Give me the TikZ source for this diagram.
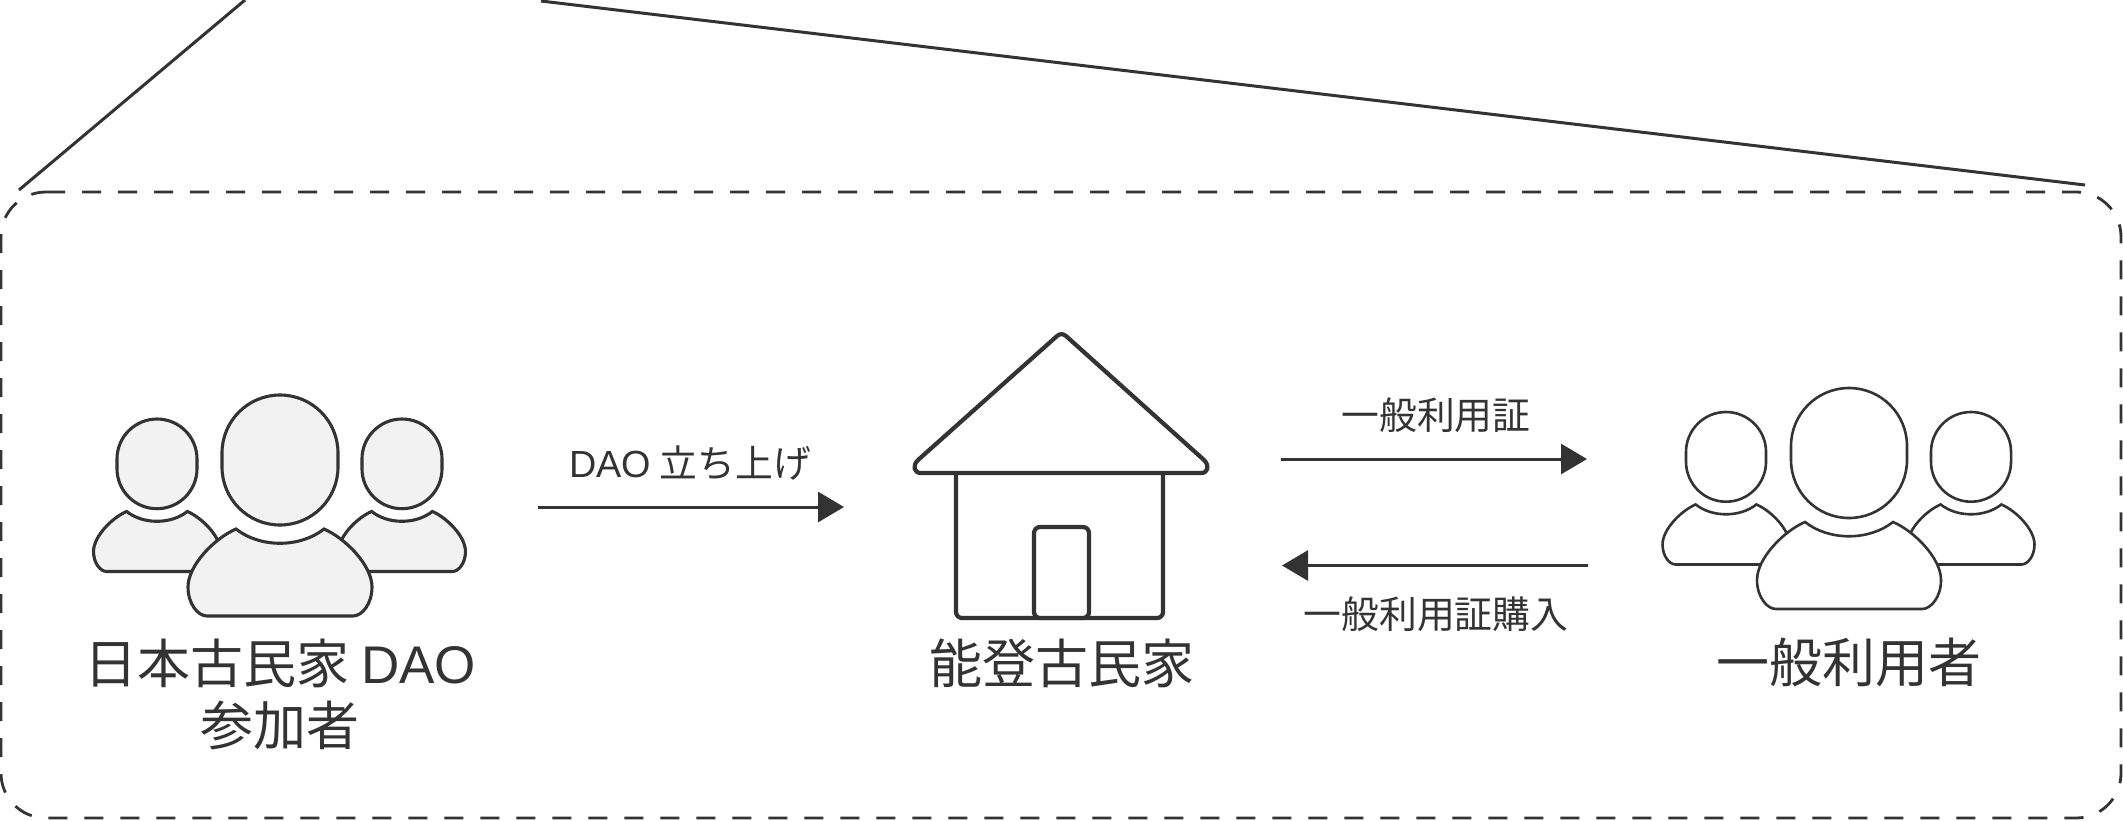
\documentclass[tikz,border=0pt]{standalone}
\usepackage{fontspec}
\setmainfont{Noto Sans CJK JP}
\newfontfamily\latinfont{Liberation Sans}
\usetikzlibrary{arrows.meta}
\definecolor{ink}{HTML}{333333}
\definecolor{pale}{HTML}{F2F2F2}
\tikzset{
  line/.style={draw=ink,line width=1.5pt},
  flow/.style={line,-{Triangle[length=13pt,width=15pt,fill=ink]}},
  frame/.style={draw=ink,line width=1.4pt,dash pattern=on 9.5pt off 8.5pt},
  house/.style={draw=ink,line width=2.1pt,line join=round,fill=white},
  bigtext/.style={text=ink,font=\fontsize{26.5pt}{30pt}\selectfont,inner sep=0pt,anchor=center},
  smalltext/.style={text=ink,font=\fontsize{18.9pt}{22pt}\selectfont,inner sep=0pt,anchor=center},
}
% one person, drawn from the top centre of the head
\newcommand{\personfig}[4]{%
  \begin{scope}[shift={(#1,#2)},scale=#3]
    \path[#4] (-58,58) arc[start angle=180,end angle=360,radius=58] -- (58,72)
      arc[start angle=0,end angle=180,radius=58] -- cycle;
    \path[#4,line join=miter] (-44,134) .. controls (-20,153) and (20,153) .. (44,134)
      .. controls (65,143) and (92,170) .. (92,192)
      .. controls (92,209) and (82,221) .. (73,221) -- (-73,221)
      .. controls (-82,221) and (-92,209) .. (-92,192)
      .. controls (-92,170) and (-65,143) .. (-44,134) -- cycle;
  \end{scope}}
\newcommand{\crowdfig}[3]{%
  \personfig{#1-123}{#2+24}{0.69}{#3}
  \personfig{#1+122}{#2+24}{0.69}{#3}
  \personfig{#1}{#2}{1}{#3}}
\begin{document}
\begin{tikzpicture}[x=0.5pt,y=-0.5pt]
  \useasboundingbox (0,0) rectangle (2123,820);
  % funnel lines and frame
  \coordinate (fa) at (245,0);  \coordinate (fb) at (19,190);
  \coordinate (fc) at (541,1);  \coordinate (fd) at (2085,185);
  \draw[line] (fa) -- (fb);
  \draw[line] (fc) -- (fd);
  \draw[frame] (46,192) -- (2076,192) .. controls (2101,192) and (2121,212) .. (2121,237)
     -- (2121,773) .. controls (2121,798) and (2101,818) .. (2076,818)
     -- (46,818) .. controls (21,818) and (1,798) .. (1,773)
     -- (1,237) .. controls (1,212) and (21,192) .. (46,192);
  % people
  \crowdfig{280}{395}{draw=ink,line width=1.55pt,fill=pale}
  \crowdfig{1849}{388}{draw=ink,line width=1.3pt,fill=white}
  % house
  \path[house,rounded corners=3pt] (956,473) -- (956,618) -- (1163,618) -- (1163,473);
  \path[house,rounded corners=3pt] (1034,618) -- (1034,527) -- (1089,527) -- (1089,618) -- cycle;
  \path[house] (1057,336) .. controls (1060,333.5) and (1063,333.5) .. (1066,336)
     -- (1204,460) .. controls (1210,466) and (1208,473) .. (1201,473)
     -- (921,473) .. controls (914,473) and (912,466) .. (918,460) -- cycle;
  % labels
  \node[bigtext] (joinA) at (280,663) {日本古民家 {\latinfont DAO}};
  \node[bigtext] (joinB) at (280,726) {参加者};
  \node[bigtext] (kominka) at (1061.5,663) {能登古民家};
  \node[bigtext] (users) at (1849,662) {一般利用者};
  \node[smalltext] (startup) at (690,463) {{\latinfont DAO} 立ち上げ};
  \node[smalltext] (pass) at (1436,415) {一般利用証};
  \node[smalltext] (buy) at (1436,614) {一般利用証購入};
  % arrows
  \coordinate (a1) at (538,507); \coordinate (a2) at (844,507);
  \coordinate (b1) at (1281,459); \coordinate (b2) at (1587,459);
  \coordinate (c1) at (1588,565.5); \coordinate (c2) at (1282,565.5);
  \draw[flow] (a1) -- (a2);
  \draw[flow] (b1) -- (b2);
  \draw[flow] (c1) -- (c2);
\end{tikzpicture}
\end{document}
